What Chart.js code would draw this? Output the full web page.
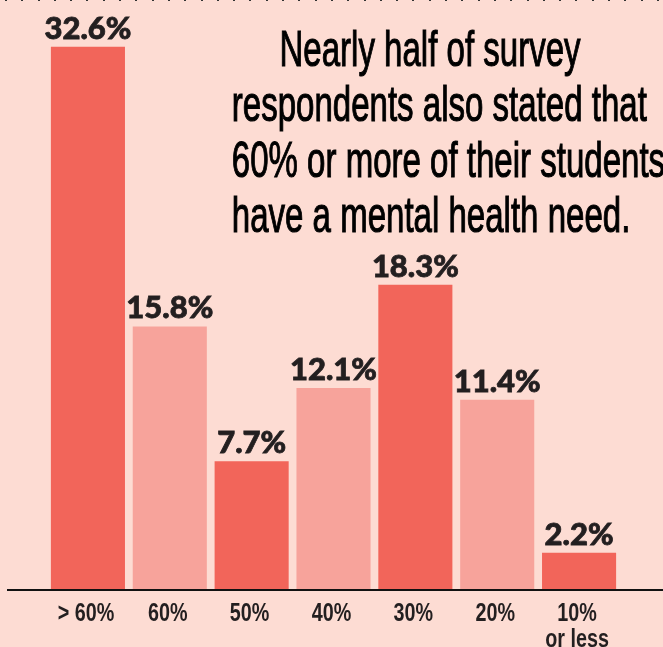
<!DOCTYPE html>
<html>
<head>
<meta charset="utf-8">
<script src="https://cdn.jsdelivr.net/npm/chart.js@4"></script>
<style>
  html, body { margin: 0; padding: 0; }
  body {
    width: 663px; height: 647px; overflow: hidden; position: relative;
    background: #fddcd3;
  }
  .dots {
    position: absolute; left: 0; top: 0; width: 663px; height: 1px;
    background-image: repeating-linear-gradient(90deg, transparent 0 5px, #333 5px 7px, transparent 7px 16.3px);
  }
  #headline {
    position: absolute; left: 130px; top: 22px; width: 600px;
    text-align: center; color: #000;
    font-family: "Liberation Sans", Arial, sans-serif;
    font-size: 50px; line-height: 55.3px; white-space: nowrap;
    -webkit-text-stroke: 1.1px #000;
    transform-origin: 300px 0;
  }
  canvas { position: absolute; left: 0; top: 0; }
</style>
</head>
<body>
<div class="dots"></div>
<canvas id="needs" width="663" height="647"></canvas>
<div id="headline">Nearly half of survey<br>respondents also stated that<br>60% or more of their students<br>have a mental health need.</div>
<script>
const categories = ["> 60%", "60%", "50%", "40%", "30%", "20%", ["10%", "or less"]];
const shares = [32.6, 15.8, 7.7, 12.1, 18.3, 11.4, 2.2];
const valueLabels = ["32.6%", "15.8%", "7.7%", "12.1%", "18.3%", "11.4%", "2.2%"];

(async function () {
  const dark = "#f2655a";
  const light = "#f7a39b";

  // squeeze the headline to look like the condensed face of the original
  const head = document.getElementById("headline");
  const probe = document.createElement("canvas").getContext("2d");
  probe.font = "50px 'Liberation Sans'";
  const squeeze = 415 / probe.measureText("respondents also stated that").width;
  head.style.transform = "scaleX(" + squeeze + ")";

  const valueLabelPlugin = {
    id: "valueLabels",
    afterDatasetsDraw(chart) {
      const ctx = chart.ctx;
      const meta = chart.getDatasetMeta(0);
      ctx.save();
      ctx.fillStyle = "#231f20";
      ctx.strokeStyle = "#231f20";
      ctx.lineWidth = 0.8;
      ctx.font = "900 31px Lato, 'Liberation Sans'";
      ctx.textAlign = "center";
      ctx.textBaseline = "alphabetic";
      meta.data.forEach((bar, i) => {
        ctx.fillText(valueLabels[i], bar.x, bar.y - 8);
        ctx.strokeText(valueLabels[i], bar.x, bar.y - 8);
      });
      ctx.restore();
    },
  };

  // condensed category labels under the bars
  const categoryLabelPlugin = {
    id: "categoryLabels",
    afterDraw(chart) {
      const ctx = chart.ctx;
      const x = chart.scales.x;
      const top = chart.scales.y.getPixelForValue(0);
      ctx.save();
      ctx.fillStyle = "#231f20";
      ctx.font = "bold 26px 'Liberation Sans'";
      ctx.textAlign = "center";
      ctx.textBaseline = "alphabetic";
      categories.forEach((cat, i) => {
        const lines = Array.isArray(cat) ? cat : [cat];
        lines.forEach((line, j) => {
          ctx.save();
          ctx.translate(x.getPixelForValue(i) - 2, top + 31 + j * 26);
          ctx.scale(0.76, 1);
          ctx.fillText(line, 0, 0);
          ctx.restore();
        });
      });
      ctx.restore();
    },
  };

  const baselinePlugin = {
    id: "baseline",
    afterDatasetsDraw(chart) {
      const ctx = chart.ctx;
      const y = chart.scales.y.getPixelForValue(0);
      ctx.save();
      ctx.strokeStyle = "#111";
      ctx.lineWidth = 2;
      ctx.beginPath();
      ctx.moveTo(7, y + 0.5);
      ctx.lineTo(chart.width, y + 0.5);
      ctx.stroke();
      ctx.restore();
    },
  };

  new Chart(document.getElementById("needs"), {
    type: "bar",
    data: {
      labels: categories,
      datasets: [
        {
          data: shares,
          backgroundColor: shares.map((v, i) => (i % 2 === 0 ? dark : light)),
          categoryPercentage: 1,
          barPercentage: 0.905,
        },
      ],
    },
    options: {
      responsive: false,
      animation: false,
      layout: { padding: { left: 47, right: 43, top: 0, bottom: 0 } },
      plugins: {
        legend: { display: false },
        tooltip: { enabled: false },
      },
      scales: {
        y: {
          display: false,
          min: 0,
          max: 35.4,
        },
        x: {
          grid: { display: false, drawTicks: false },
          border: { display: false },
          afterFit(scale) { scale.height = 57.5; },
          ticks: { display: false },
        },
      },
    },
    plugins: [valueLabelPlugin, categoryLabelPlugin, baselinePlugin],
  });
})();
</script>
</body>
</html>
